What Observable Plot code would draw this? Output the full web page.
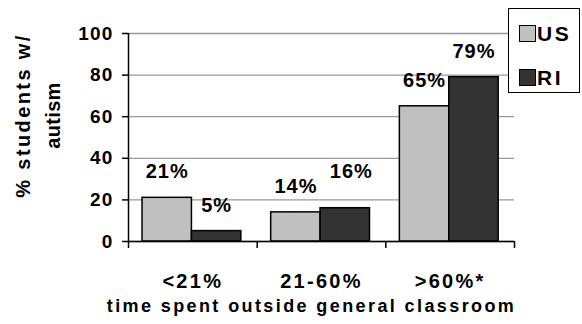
<!DOCTYPE html>
<html>
<head>
<meta charset="utf-8">
<script src="https://cdn.jsdelivr.net/npm/d3@7"></script>
<script src="https://cdn.jsdelivr.net/npm/@observablehq/plot@0.6"></script>
<style>
  html, body { margin: 0; padding: 0; background: #fff; overflow: hidden; }
  #chart { position: relative; width: 582px; height: 324px; font-family: "Liberation Sans", Arial, sans-serif; }
  #legend {
    position: absolute; left: 508px; top: 8px; width: 70px; height: 83px;
    border: 1.5px solid #000; background: #fff;
  }
  #legend .item { position: absolute; left: 10px; display: flex; align-items: center; }
  #legend .swatch { width: 15px; height: 15px; border: 1px solid #000; margin-right: 1px; }
  #legend .name { font-weight: bold; font-size: 21px; letter-spacing: 2.5px; line-height: 1; }
</style>
</head>
<body>
<div id="chart"></div>
<script>
// Share of students with autism by time spent outside the general classroom
const groups = ["<21%", "21-60%", ">60%*"];
const series = ["US", "RI"];
const usValues = [21, 14, 65];
const riValues = [5, 16, 79];
const yTicks = [0, 20, 40, 60, 80, 100];
const seriesColors = ["#c0c0c0", "#333333"];
const yTitle = "% students w/\nautism";
const xTitle = "time spent outside general classroom";

const valuesBySeries = [usValues, riValues];
const rows = groups.flatMap((group, gi) =>
  series.map((name, si) => ({group, gi, series: name, si, value: valuesBySeries[si][gi]}))
);

// each group occupies one unit on x; the two bars sit side by side inside it
const barPad = 0.109;
const barWidth = 0.384;
const left = d => d.gi + barPad + d.si * barWidth;
const mid = d => left(d) + barWidth / 2;
// the RI label in the middle group sits a little higher than the others
const lifted = d => d.gi === 1 && d.si === 1;
const valueLabel = d => `${d.value}%`;

const font = '"Liberation Sans", Arial, sans-serif';

const plot = Plot.plot({
  width: 582,
  height: 324,
  marginLeft: 128,
  marginRight: 68,
  marginTop: 33,
  marginBottom: 83,
  style: {fontFamily: font, fontSize: "19px", fontWeight: "bold", color: "#000", background: "#fff"},
  x: {domain: [0, groups.length]},
  y: {domain: [0, 100]},
  color: {domain: series, range: seriesColors},
  marks: [
    Plot.gridY(yTicks, {stroke: "#999", strokeOpacity: 1, strokeWidth: 1.3}),
    Plot.rectY(rows, {
      x1: left,
      x2: d => left(d) + barWidth,
      y1: () => 0,
      y2: "value",
      fill: "series",
      stroke: "#000",
      strokeWidth: 1.5
    }),
    Plot.ruleY([0], {stroke: "#000", strokeWidth: 1.5}),
    Plot.ruleX([0], {stroke: "#000", strokeWidth: 1.5}),
    Plot.axisY({ticks: yTicks, tickSize: 6, tickPadding: 9, label: null, strokeWidth: 1.5}),
    // ticks on the group boundaries
    Plot.axisX({ticks: d3.range(groups.length + 1), tickSize: 7, tickFormat: () => "", label: null, strokeWidth: 1.5}),
    // group names centred under each pair of bars
    Plot.axisX({
      ticks: groups.map((g, i) => i + 0.5),
      tickSize: 0,
      tickPadding: 32,
      tickFormat: v => groups[Math.floor(v)],
      fontSize: 20,
      label: null
    }),
    Plot.text(rows, {filter: d => !lifted(d), x: mid, y: "value", text: valueLabel, dy: -26, fontSize: 20}),
    Plot.text(rows, {filter: lifted, x: mid, y: "value", text: valueLabel, dy: -37, dx: 6, fontSize: 20}),
    Plot.text([xTitle], {
      frameAnchor: "bottom",
      textAnchor: "middle",
      lineAnchor: "middle",
      dy: 65,
      dx: -10,
      fontSize: 18
    }),
    Plot.text([yTitle], {
      frameAnchor: "left",
      textAnchor: "middle",
      lineAnchor: "middle",
      rotate: -90,
      dx: -93,
      dy: -22,
      fontSize: 20,
      lineHeight: 1.5
    })
  ]
});

const chart = document.getElementById("chart");
chart.appendChild(plot);

// spacing tweaks for the wide bold lettering
const valueTexts = new Set(rows.map(valueLabel));
const yTickTexts = new Set(yTicks.map(String));
const [yTitleFirst, yTitleSecond] = yTitle.split("\n");
plot.querySelectorAll("text, tspan").forEach(el => {
  if (el.querySelector && el.querySelector("tspan")) return;
  const t = el.textContent;
  let s = null;
  if (t === xTitle) s = "2.4px";
  else if (t === yTitleFirst) s = "2.4px";
  else if (t === yTitleSecond) s = "0.3px";
  else if (groups.includes(t)) s = "2.3px";
  else if (valueTexts.has(t)) s = "1px";
  else if (yTickTexts.has(t)) s = "1.2px";
  if (s) {
    el.setAttribute("letter-spacing", s);
    el.style.letterSpacing = s;
  }
});

// legend box at the top right
const legend = document.createElement("div");
legend.id = "legend";
series.forEach((name, i) => {
  const item = document.createElement("div");
  item.className = "item";
  item.style.top = `${14 + i * 43.5}px`;
  const sw = document.createElement("div");
  sw.className = "swatch";
  sw.style.background = seriesColors[i];
  const label = document.createElement("span");
  label.className = "name";
  label.textContent = name;
  item.appendChild(sw);
  item.appendChild(label);
  legend.appendChild(item);
});
chart.appendChild(legend);
</script>
</body>
</html>
